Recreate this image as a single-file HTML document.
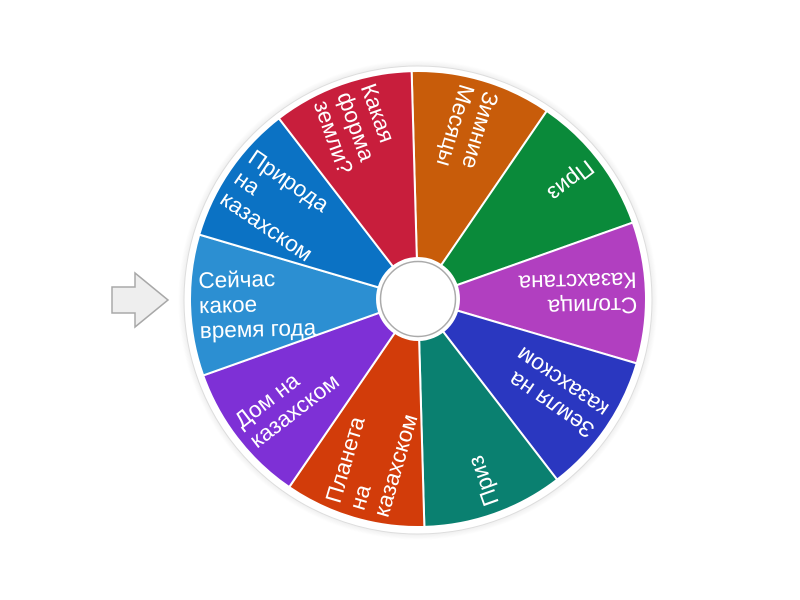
<!DOCTYPE html>
<html><head><meta charset="utf-8"><style>
html,body{margin:0;padding:0;background:#fff;width:800px;height:600px;overflow:hidden}
svg{display:block}
text{font-family:"Liberation Sans",sans-serif;font-size:22.5px;fill:#fff}
</style></head><body>
<svg width="800" height="600" viewBox="0 0 800 600" xmlns="http://www.w3.org/2000/svg">
<defs>
<radialGradient id="sh" cx="0.5" cy="0.5" r="0.5">
<stop offset="0.94" stop-color="#000" stop-opacity="0.15"/>
<stop offset="1" stop-color="#000" stop-opacity="0"/>
</radialGradient>
</defs>
<polygon points="112,287 135,287 135,273 168,300 135,327 135,313 112,313" fill="#eeeeee" stroke="#a8a8a8" stroke-width="1.5"/>
<circle cx="418" cy="300" r="240" fill="url(#sh)"/>
<circle cx="418" cy="300" r="234" fill="#fff" stroke="#ddd" stroke-width="1"/>
<g id="wheel"></g>
<circle cx="418" cy="299" r="42" fill="#fff"/>
<circle cx="418" cy="299" r="37.5" fill="#fff" stroke="#aaa" stroke-width="1.5"/>
</svg>
<script>
(function(){
var cx=418,cy=299,R=228;
var segs=[
["#c85c0a",["Зимние","Месяцы"]],
["#0a8a3a",["Приз"]],
["#b13fc0",["Столица","Казахстана"]],
["#2a37c0",["Земля на","казахском"]],
["#0a8070",["Приз"]],
["#d23c0a",["Планета","на","казахском"]],
["#7e30d6",["Дом на","казахском"]],
["#2c8fd2",["Сейчас","какое","время года"]],
["#0b72c4",["Природа","на","казахском"]],
["#c81e3c",["Какая","форма","земли?"]]
];
var g=document.getElementById('wheel'),s="";
function pt(a,r){var t=a*Math.PI/180;return [cx+r*Math.cos(t),cy+r*Math.sin(t)];}
for(var k=0;k<10;k++){
var a0=-91.6+36*k,a1=a0+36,p0=pt(a0,R),p1=pt(a1,R);
s+='<path d="M'+cx+','+cy+' L'+p0[0]+','+p0[1]+' A'+R+','+R+' 0 0 1 '+p1[0]+','+p1[1]+' Z" fill="'+segs[k][0]+'" stroke="#fff" stroke-width="2"/>';
}
for(var k=0;k<10;k++){
var mid=-91.6+36*k+18,lines=segs[k][1],n=lines.length;
s+='<g transform="translate('+cx+','+cy+') rotate('+(mid+180)+')">';
for(var i=0;i<n;i++){var y=(i-(n-1)/2)*25+8;s+='<text x="-219" y="'+y+'">'+lines[i]+'</text>';}
s+='</g>';
}
g.innerHTML=s;
})();
</script>
</body></html>
